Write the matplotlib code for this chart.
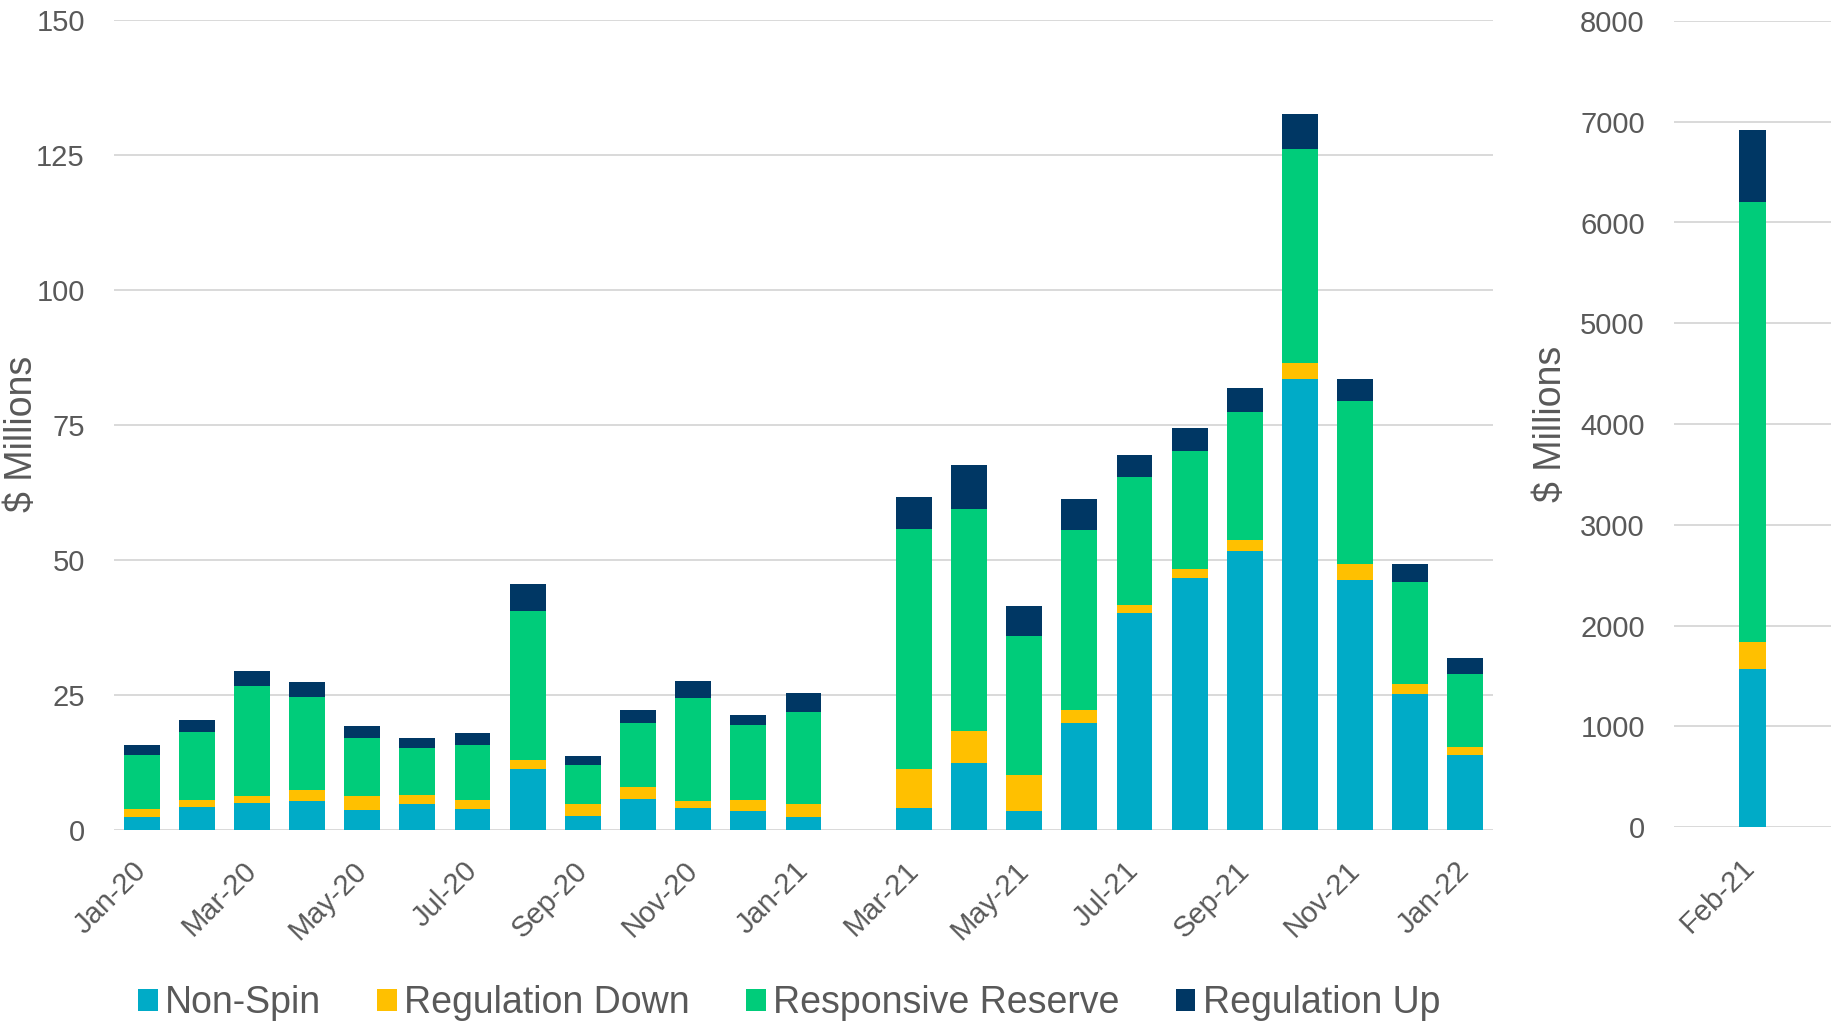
import matplotlib
matplotlib.use("Agg")
import matplotlib.pyplot as plt
from matplotlib.patches import Patch
from matplotlib.transforms import ScaledTranslation
import numpy as np

plt.rcParams['font.family'] = ['Liberation Sans', 'DejaVu Sans']

# ---- data ----
months_all = ["Jan-20", "Feb-20", "Mar-20", "Apr-20", "May-20", "Jun-20", "Jul-20",
              "Aug-20", "Sep-20", "Oct-20", "Nov-20", "Dec-20", "Jan-21", "Feb-21",
              "Mar-21", "Apr-21", "May-21", "Jun-21", "Jul-21", "Aug-21", "Sep-21",
              "Oct-21", "Nov-21", "Dec-21", "Jan-22"]
left_months = [m for m in months_all if m != "Feb-21"]

non_spin = [2.5, 4.3, 5.0, 5.4, 3.7, 4.8, 3.9, 11.3, 2.6, 5.8, 4.1, 3.6, 2.5,
            4.1, 12.4, 3.6, 19.9, 40.2, 46.6, 51.6, 83.5, 46.3, 25.2, 13.8]
reg_down = [1.4, 1.3, 1.3, 2.1, 2.6, 1.7, 1.6, 1.6, 2.2, 2.2, 1.3, 2.0, 2.3,
            7.2, 6.0, 6.6, 2.3, 1.4, 1.8, 2.1, 3.0, 3.0, 1.9, 1.5]
resp_reserve = [10.0, 12.6, 20.3, 17.2, 10.7, 8.7, 10.2, 27.7, 7.3, 11.9, 19.1, 13.9, 17.1,
                44.4, 41.0, 25.8, 33.3, 23.7, 21.8, 23.8, 39.6, 30.1, 18.8, 13.6]
reg_up = [1.9, 2.1, 2.8, 2.7, 2.2, 1.9, 2.3, 5.0, 1.6, 2.4, 3.1, 1.8, 3.5,
          5.9, 8.1, 5.4, 5.8, 4.1, 4.2, 4.3, 6.5, 4.2, 3.4, 2.9]

right_months = ["Feb-21"]
feb_non_spin = [1565]
feb_reg_down = [270]
feb_resp_reserve = [4365]
feb_reg_up = [715]

series_names = ["Non-Spin", "Regulation Down", "Responsive Reserve", "Regulation Up"]
colors = ["#00ABC7", "#FFC000", "#00CC7A", "#003764"]

left_ticks = months_all[::2]
left_yticks = [0, 25, 50, 75, 100, 125, 150]
right_yticks = [0, 1000, 2000, 3000, 4000, 5000, 6000, 7000, 8000]

# ---- figure ----
W, H = 1847, 1021
fig = plt.figure(figsize=(W / 100, H / 100), dpi=100)
ax1 = fig.add_axes([114 / W, 1 - 830 / H, (1493 - 114) / W, (830 - 20) / H])
ax2 = fig.add_axes([1674 / W, 1 - 827 / H, (1831 - 1674) / W, (827 - 21) / H])

txt = "#595959"
grid_c = "#D9D9D9"


def style(ax):
    for s in ax.spines.values():
        s.set_visible(False)
    ax.yaxis.grid(True, color=grid_c, lw=1.4)
    ax.set_axisbelow(True)
    ax.tick_params(axis='both', length=0, colors=txt, labelsize=21)
    ax.tick_params(axis='y', pad=21)
    ax.tick_params(axis='x', pad=19)


def shift_labels(ax, dx_px):
    off = ScaledTranslation(dx_px / 100, 0, fig.dpi_scale_trans)
    for lab in ax.get_xticklabels():
        lab.set_transform(lab.get_transform() + off)


# left panel
xpos = np.array([months_all.index(m) for m in left_months])
bottom = np.zeros(len(left_months))
for vals, c in zip([non_spin, reg_down, resp_reserve, reg_up], colors):
    v = np.array(vals)
    ax1.bar(xpos, v, width=0.65, bottom=bottom, color=c, edgecolor='none')
    bottom += v
ax1.set_xlim(-0.5, len(months_all) - 0.5)
ax1.set_ylim(0, 150)
ax1.set_yticks(left_yticks)
ax1.set_xticks([months_all.index(m) for m in left_ticks])
ax1.set_xticklabels(left_ticks, rotation=45, ha='right', rotation_mode='anchor', fontsize=22)
style(ax1)
shift_labels(ax1, -10)
ax1.set_ylabel("$ Millions", fontsize=27, color=txt)
ax1.yaxis.set_label_coords((40 - 114) / (1493 - 114), 0.489)

# right panel
rx = np.arange(len(right_months))
rbottom = np.zeros(len(right_months))
for vals, c in zip([feb_non_spin, feb_reg_down, feb_resp_reserve, feb_reg_up], colors):
    v = np.array(vals, dtype=float)
    ax2.bar(rx, v, width=0.17, bottom=rbottom, color=c, edgecolor='none')
    rbottom += v
ax2.set_xlim(-0.5, 0.5)
ax2.set_ylim(0, 8000)
ax2.set_yticks(right_yticks)
ax2.set_xticks(rx)
ax2.set_xticklabels(right_months, rotation=45, ha='right', rotation_mode='anchor', fontsize=23)
style(ax2)
shift_labels(ax2, -12)
ax2.set_ylabel("$ Millions", fontsize=27, color=txt)
ax2.yaxis.set_label_coords((1569 - 1674) / (1831 - 1674), 0.50)

# legend
handles = [Patch(facecolor=c, edgecolor='none') for c in colors]
fig.legend(handles, series_names, loc='center left', bbox_to_anchor=(138 / W, 1 - 1003 / H),
           ncol=4, frameon=False, fontsize=27, labelcolor=txt, borderpad=0, borderaxespad=0,
           handlelength=0.52, handleheight=0.52, handletextpad=0.2, columnspacing=1.5)

fig.savefig("out.png", dpi=100)
